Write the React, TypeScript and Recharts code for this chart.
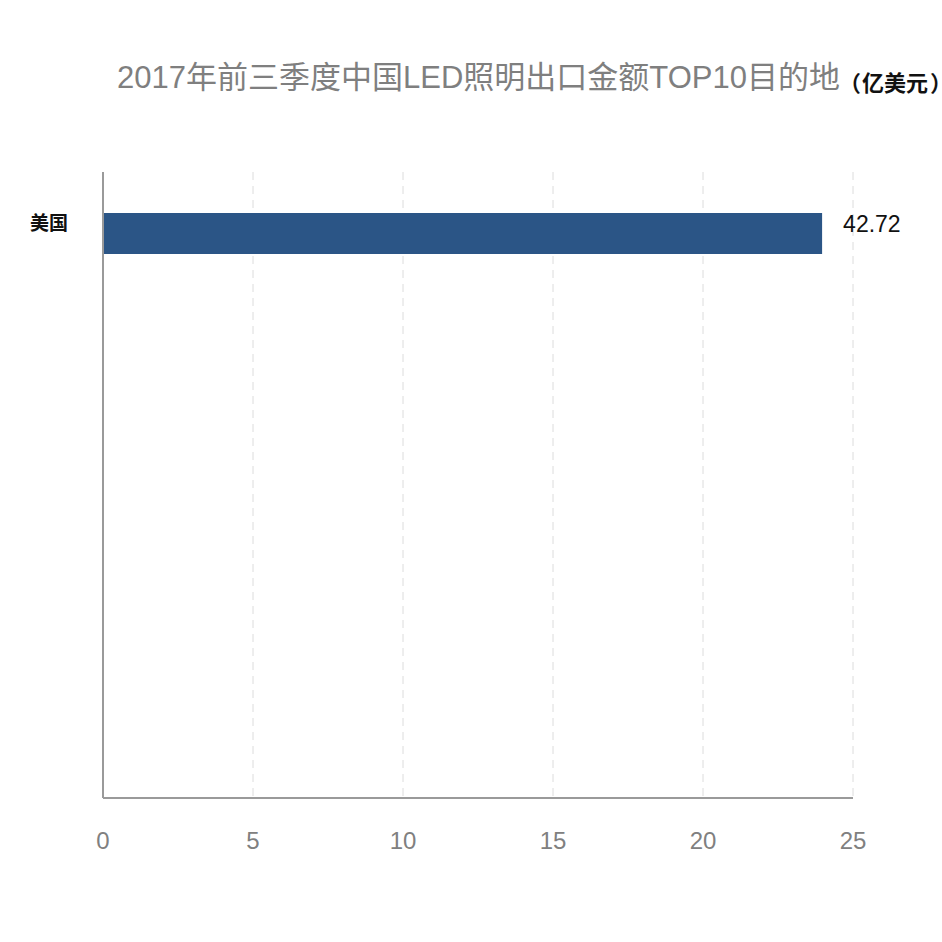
import React from 'react';
import { BarChart, Bar, XAxis, YAxis, CartesianGrid, LabelList } from 'recharts';

// Data
const categories = ['美国'];
const barLengths = [23.97]; // length of the bar as drawn against the axis
const valueLabels = ['42.72']; // label printed next to the bar
const xTicks = [0, 5, 10, 15, 20, 25];

const titleMain = '2017年前三季度中国LED照明出口金额TOP10目的地';
const unitOpen = '（';
const unitText = '亿美元';
const unitClose = '）';

const data = categories.map((name, i) => ({ name, value: barLengths[i], label: valueLabels[i] }));

const FONT = '"Liberation Sans", "Noto Sans CJK SC", sans-serif';
const CJK = '"Noto Sans CJK SC", sans-serif';
const HALF = { fontFeatureSettings: '"halt"' } as any;

const YTick = (props: any) => {
  const { x, y, payload } = props;
  return (
    <text x={x} y={y - 10} dy="0.35em" textAnchor="end" fontFamily={FONT} fontSize={19} fontWeight="bold" fill="#111">
      {payload.value}
    </text>
  );
};

const ValueLabel = (props: any) => {
  const vb = props.viewBox || props;
  const x = vb.x + vb.width + 21;
  const y = vb.y + vb.height / 2 - 10;
  return (
    <text x={x} y={y} dy="0.35em" textAnchor="start" fontFamily={FONT} fontSize={23} fill="#111">
      {props.value}
    </text>
  );
};

export default function App() {
  return (
    <div style={{ position: 'absolute', left: 0, top: 0, width: 942, height: 942, background: '#ffffff' }}>
      <svg width={942} height={942} style={{ position: 'absolute', left: 0, top: 0 }}>
        <text x={117} y={88} fontFamily={FONT} fontSize={31} fill="#7f7f7f">
          {titleMain}
        </text>
        <text x={850} y={91} fontFamily={CJK} fontSize={22} fontWeight="bold" fill="#111">
          <tspan style={HALF}>{unitOpen}</tspan>
          <tspan dx={1}>{unitText}</tspan>
          <tspan dx={2} style={HALF}>{unitClose}</tspan>
        </text>
      </svg>
      <div style={{ position: 'absolute', left: 0, top: 0 }}>
        <BarChart
          width={942}
          height={942}
          data={data}
          layout="vertical"
          margin={{ top: 172, right: 89, bottom: 84, left: 0 }}
        >
          <CartesianGrid horizontal={false} vertical={true} stroke="#dcdcdc" strokeDasharray="8 6" />
          <XAxis
            type="number"
            domain={[0, 25]}
            ticks={xTicks}
            height={60}
            tickLine={false}
            tickSize={0}
            tickMargin={34}
            axisLine={{ stroke: '#9a9a9a', strokeWidth: 2 }}
            tick={{ fontFamily: FONT, fontSize: 24, fill: '#808080' }}
          />
          <YAxis
            type="category"
            dataKey="name"
            width={103}
            tickLine={false}
            tickSize={0}
            tickMargin={35}
            padding={{ top: 20, bottom: 524 }}
            axisLine={{ stroke: '#9a9a9a', strokeWidth: 2 }}
            tick={<YTick />}
          />
          <Bar dataKey="value" fill="#2b5586" barSize={41} isAnimationActive={false}>
            <LabelList dataKey="label" content={<ValueLabel />} />
          </Bar>
        </BarChart>
      </div>
    </div>
  );
}
